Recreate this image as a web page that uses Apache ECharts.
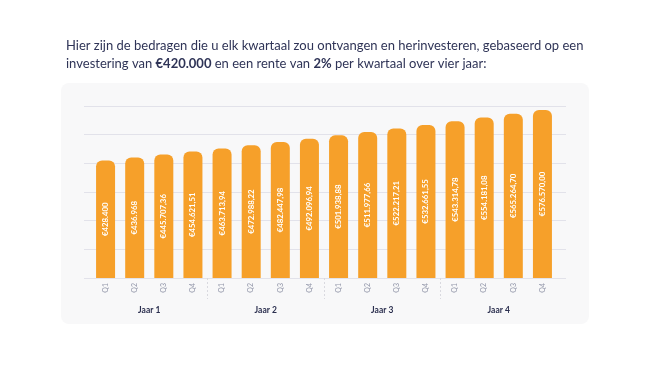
<!DOCTYPE html>
<html>
<head>
<meta charset="utf-8">
<script src="https://cdn.jsdelivr.net/npm/echarts@6/dist/echarts.min.js"></script>
<style>
html,body{margin:0;padding:0;background:#ffffff;}
#chart{width:650px;height:365px;}
</style>
</head>
<body>
<div id="chart"></div>
<script>
const categories = ['Q1','Q2','Q3','Q4','Q1','Q2','Q3','Q4','Q1','Q2','Q3','Q4','Q1','Q2','Q3','Q4'];
const years = ['Jaar 1','Jaar 2','Jaar 3','Jaar 4'];
const values = [428400, 436968, 445707.36, 454621.51, 463713.94, 472988.22, 482447.98, 492096.94,
                501938.88, 511977.66, 522217.21, 532661.55, 543314.78, 554181.08, 565264.70, 576570.00];
const valueLabels = ['€428.400','€436.968','€445.707,36','€454.621,51','€463.713,94','€472.988,22','€482.447,98','€492.096,94',
                     '€501.938,88','€511.977,66','€522.217,21','€532.661,55','€543.314,78','€554.181,08','€565.264,70','€576.570,00'];
const yMin = 84000, yMax = 588000, yStep = 84000;
const yearBoundaries = [4, 8, 12];

const chart = echarts.init(document.getElementById('chart'));
const font = 'Lato, "Open Sans", sans-serif';
chart.setOption({
  animation: false,
  backgroundColor: '#ffffff',
  graphic: [{
    type: 'rect', left: 61, top: 83, z: -10,
    shape: { width: 528, height: 241, r: 8 },
    style: { fill: '#f8f8f9' }
  }],
  title: {
    left: 61, top: 32,
    text: '{a|Hier zijn de bedragen die u elk kwartaal zou ontvangen en herinvesteren, gebaseerd op een}\n' +
          '{a|investering van }{b|€420.000}{a| en een rente van }{b|2%}{a| per kwartaal over vier jaar:}',
    textStyle: {
      fontWeight: 'normal',
      rich: {
        a: { fontFamily: font, fontSize: 13, color: '#2f3457', fontWeight: 'normal', lineHeight: 18 },
        b: { fontFamily: font, fontSize: 13, color: '#2f3457', fontWeight: 'bold', lineHeight: 18 }
      }
    }
  },
  grid: [
    { left: 84, right: 84, top: 106, bottom: 87 },
    { left: 91, right: 93, top: 106, bottom: 87 }
  ],
  xAxis: [
    { gridIndex: 0, type: 'value', show: false },
    {
      gridIndex: 1, type: 'category', data: categories, position: 'bottom',
      axisLine: { show: false }, axisTick: { show: false },
      axisLabel: { rotate: 90, fontSize: 7, color: '#9397aa', fontFamily: font, margin: 5 }
    },
    {
      gridIndex: 1, type: 'category', data: years, position: 'bottom', offset: 24,
      axisLine: { show: false }, axisTick: { show: false },
      axisLabel: { fontSize: 8.5, color: '#2b2f4f', fontWeight: 'bold', fontFamily: font, margin: 4 }
    },
    {
      gridIndex: 1, type: 'value', min: 0, max: categories.length, position: 'bottom',
      axisLine: { show: false }, axisLabel: { show: false }, splitLine: { show: false },
      axisTick: { show: true, customValues: yearBoundaries, length: 21,
        lineStyle: { color: '#d9d9df', type: [2, 2], width: 1 } }
    }
  ],
  yAxis: [
    {
      gridIndex: 0, type: 'value', min: yMin, max: yMax, interval: yStep,
      axisLabel: { show: false }, axisLine: { show: false }, axisTick: { show: false },
      splitLine: { lineStyle: { color: '#e2e2ea', width: 1.2 } }
    },
    {
      gridIndex: 1, type: 'value', min: yMin, max: yMax, interval: yStep, show: false,
      splitLine: { show: false }
    }
  ],
  series: [{
    type: 'bar', xAxisIndex: 1, yAxisIndex: 1,
    data: values, barWidth: 19,
    itemStyle: { color: '#f6a02a', borderRadius: [6, 6, 0, 0] },
    label: {
      show: true, position: 'inside', rotate: 90,
      formatter: p => valueLabels[p.dataIndex],
      color: '#ffffff', fontSize: 7.8, fontWeight: 'bold', fontFamily: font
    }
  }]
});
</script>
</body>
</html>
